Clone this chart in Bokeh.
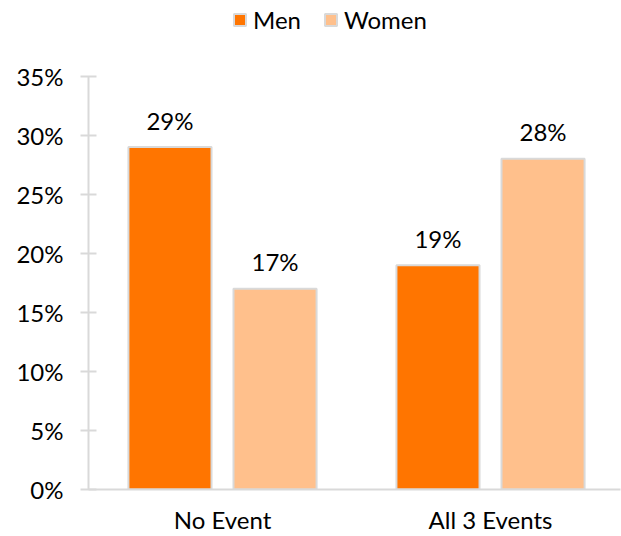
from bokeh.plotting import figure
from bokeh.models import ColumnDataSource, Legend, LegendItem, FixedTicker, NumeralTickFormatter, Range1d
from bokeh.transform import dodge
from bokeh.core.properties import value
from bokeh.embed import file_html
from bokeh.resources import INLINE

categories = ["No Event", "All 3 Events"]
men = [0.29, 0.19]
women = [0.17, 0.28]
y_ticks = [0, 0.05, 0.10, 0.15, 0.20, 0.25, 0.30, 0.35]

FONT = "Lato"
FS = "24px"
MEN_C = "#ff7500"
WOMEN_C = "#ffc08c"
EDGE = "#d9d9d9"

xs = list(range(len(categories)))
src = ColumnDataSource(dict(
    x=xs, men=men, women=women,
    men_lbl=[f"{round(v*100)}%" for v in men],
    women_lbl=[f"{round(v*100)}%" for v in women],
))

# frame extends to the top of the canvas so the legend can sit above the axis
AX_MAX = y_ticks[-1]
TOP_EXTRA = 76 / (415 / AX_MAX)

p = figure(width=621, height=536, output_backend="svg", toolbar_location=None,
           x_range=Range1d(-0.5, 1.485), y_range=Range1d(0, AX_MAX + TOP_EXTRA),
           min_border_left=88, min_border_right=1, min_border_top=0, min_border_bottom=45)
p.outline_line_color = None
p.grid.visible = False
p.background_fill_color = "white"

bw = 0.31
off = 0.196
r_men = p.vbar(x=dodge("x", -off), top="men", width=bw, source=src,
               fill_color=MEN_C, line_color=EDGE, line_width=2)
r_women = p.vbar(x=dodge("x", off), top="women", width=bw, source=src,
                 fill_color=WOMEN_C, line_color=EDGE, line_width=2)

for col, lbl, d in (("men", "men_lbl", -off), ("women", "women_lbl", off)):
    p.text(x=dodge("x", d), y=col, text=lbl, source=src, text_align="center",
           text_baseline="middle", y_offset=-27, text_font=value(FONT),
           text_font_size=FS, text_color="#000000")

# y axis
ya = p.yaxis[0]
ya.bounds = (0, AX_MAX)
ya.ticker = FixedTicker(ticks=y_ticks)
ya.formatter = NumeralTickFormatter(format="0%")
ya.axis_line_color = EDGE
ya.axis_line_width = 2
ya.major_tick_line_color = EDGE
ya.major_tick_line_width = 2
ya.major_tick_in = 8
ya.major_tick_out = 8
ya.minor_tick_line_color = None
ya.major_label_text_font = FONT
ya.major_label_text_font_size = FS
ya.major_label_text_color = "#000000"
ya.major_label_standoff = 17

# x axis
xa = p.xaxis[0]
xa.ticker = FixedTicker(ticks=xs)
xa.major_label_overrides = {i: c for i, c in enumerate(categories)}
xa.axis_line_color = EDGE
xa.axis_line_width = 2
xa.major_tick_line_color = None
xa.major_tick_out = 0
xa.major_tick_in = 0
xa.minor_tick_line_color = None
xa.major_label_text_font = FONT
xa.major_label_text_font_size = FS
xa.major_label_text_color = "#000000"
xa.major_label_standoff = 15

legend = Legend(items=[LegendItem(label="Men", renderers=[r_men]),
                       LegendItem(label="Women", renderers=[r_women])],
                orientation="horizontal", location=(144, 455),
                label_text_font=FONT, label_text_font_size=FS,
                label_text_color="#000000",
                glyph_width=15, glyph_height=15, label_standoff=6, spacing=22,
                padding=0, margin=0, border_line_color=None,
                background_fill_alpha=0)
p.add_layout(legend, "center")

open("out.html", "w").write(file_html(p, INLINE))
